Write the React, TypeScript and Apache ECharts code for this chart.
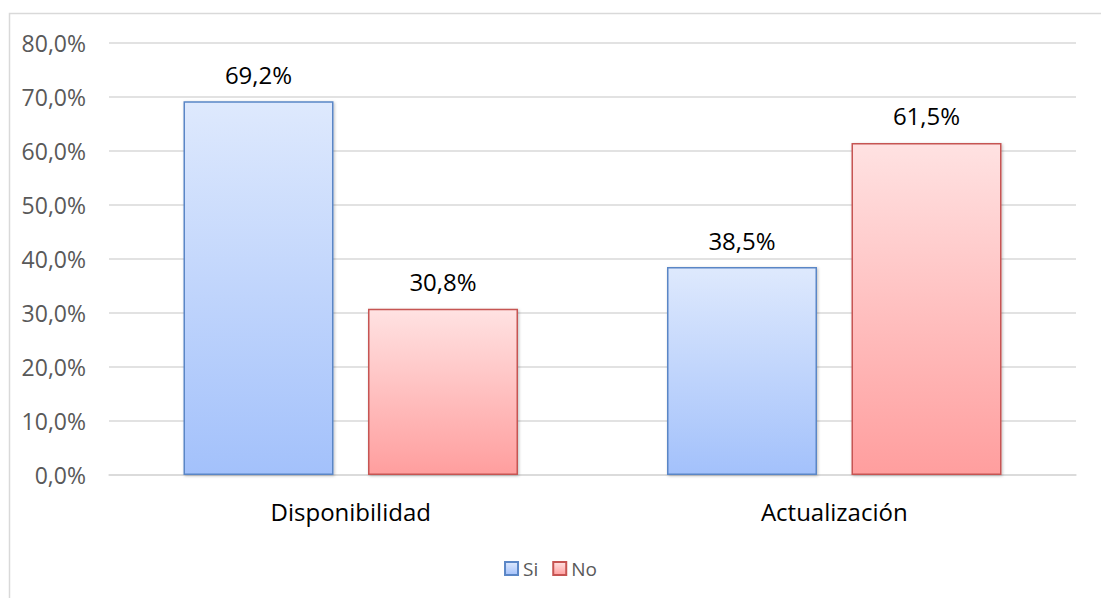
import React, { useEffect, useRef } from "react";
import * as echarts from "echarts";

const categories = ["Disponibilidad", "Actualización"];
const seriesNames = ["Si", "No"];
const siValues = [69.2, 38.5];
const noValues = [30.8, 61.5];
const yTicks = { min: 0, max: 80, interval: 10 };

const fmt = (v: number) => v.toFixed(1).replace(".", ",") + "%";

export default function App() {
  const ref = useRef<HTMLDivElement>(null);
  useEffect(() => {
    if (!ref.current) return;
    const chart = echarts.init(ref.current, null, { renderer: "svg" });
    const font = "'Open Sans', 'Noto Sans', sans-serif";
    const blueGrad = new echarts.graphic.LinearGradient(0, 0, 0, 1, [
      { offset: 0, color: "#dee9fd" },
      { offset: 1, color: "#a3c1fb" },
    ]);
    const redGrad = new echarts.graphic.LinearGradient(0, 0, 0, 1, [
      { offset: 0, color: "#ffe2e2" },
      { offset: 1, color: "#ff9e9e" },
    ]);
    const labelCfg = {
      show: true,
      position: "top" as const,
      distance: 15,
      color: "#000000",
      fontSize: 24,
      fontFamily: font,
      formatter: (p: any) => fmt(p.value),
    };
    chart.setOption({
      animation: false,
      backgroundColor: "#ffffff",
      graphic: [
        {
          type: "rect",
          shape: { x: 9.5, y: 13.5, width: 1200, height: 700 },
          style: { fill: "none", stroke: "#d9d9d9", lineWidth: 1.5 },
          silent: true,
        },
      ],
      grid: { left: 109, right: 25, top: 43, bottom: 123, containLabel: false },
      legend: {
        data: seriesNames,
        top: 554,
        left: "center",
        icon: "rect",
        itemWidth: 13,
        itemHeight: 13,
        itemGap: 14,
        textStyle: { color: "#595959", fontSize: 19, fontFamily: font, padding: [0, 0, 0, 0] },
      },
      xAxis: {
        type: "category",
        data: categories,
        axisLine: { show: true, lineStyle: { color: "#d9d9d9", width: 1.5 } },
        axisTick: { show: false },
        axisLabel: { color: "#000000", fontSize: 24, fontFamily: font, margin: 24 },
      },
      yAxis: {
        type: "value",
        min: yTicks.min,
        max: yTicks.max,
        interval: yTicks.interval,
        axisLine: { show: false },
        axisTick: { show: false },
        splitLine: { lineStyle: { color: "#d9d9d9", width: 1.5 } },
        axisLabel: {
          color: "#595959",
          fontSize: 23,
          fontFamily: font,
          margin: 23,
          formatter: (v: number) => fmt(v),
        },
      },
      series: [
        {
          name: seriesNames[0],
          type: "bar",
          data: siValues,
          barWidth: 150,
          barGap: "23%",
          itemStyle: {
            color: blueGrad,
            borderColor: "#5a86c6",
            borderWidth: 1.5,
            shadowColor: "rgba(0,0,0,0.25)",
            shadowBlur: 3,
            shadowOffsetX: 1,
            shadowOffsetY: 1,
          },
          label: labelCfg,
        },
        {
          name: seriesNames[1],
          type: "bar",
          data: noValues,
          barWidth: 150,
          barGap: "23%",
          itemStyle: {
            color: redGrad,
            borderColor: "#c65452",
            borderWidth: 1.5,
            shadowColor: "rgba(0,0,0,0.25)",
            shadowBlur: 3,
            shadowOffsetX: 1,
            shadowOffsetY: 1,
          },
          label: labelCfg,
        },
      ],
    });
    return () => chart.dispose();
  }, []);
  return (
    <div
      ref={ref}
      style={{ position: "fixed", left: 0, top: 0, width: 1101, height: 598, background: "#fff" }}
    />
  );
}
